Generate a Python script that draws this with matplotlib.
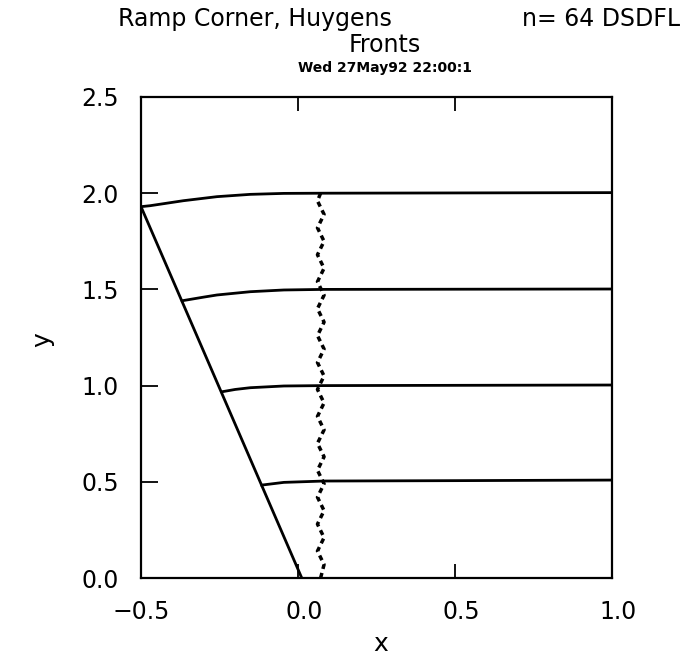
import matplotlib
matplotlib.use("Agg")
import matplotlib.pyplot as plt
from matplotlib.transforms import offset_copy

# ---- data ----
ramp_x = [0.012, -0.5]
ramp_y = [0.0, 1.93]

front_20_x = [-0.5, -0.471, -0.365, -0.258, -0.152, -0.045, 0.081, 1.0]
front_20_y = [1.93, 1.935, 1.961, 1.982, 1.994, 1.999, 2.0, 2.003]

front_15_x = [-0.369, -0.30, -0.258, -0.152, -0.045, 0.081, 1.0]
front_15_y = [1.441, 1.460, 1.471, 1.488, 1.497, 1.500, 1.502]

front_10_x = [-0.242, -0.20, -0.152, -0.045, 0.08, 1.0]
front_10_y = [0.968, 0.980, 0.989, 0.998, 1.0, 1.003]

front_05_x = [-0.115, -0.045, 0.083, 0.5, 1.0]
front_05_y = [0.483, 0.497, 0.504, 0.506, 0.509]

wig_y = [0.00, 0.07, 0.14, 0.21, 0.28, 0.35, 0.42, 0.49, 0.56, 0.63,
         0.70, 0.77, 0.84, 0.91, 0.98, 1.05, 1.12, 1.19, 1.26, 1.33,
         1.40, 1.47, 1.54, 1.61, 1.68, 1.75, 1.82, 1.89, 1.96, 2.00]
wig_x = [0.072, 0.083, 0.062, 0.083, 0.062, 0.083, 0.062, 0.083, 0.062, 0.083,
         0.062, 0.083, 0.062, 0.083, 0.062, 0.083, 0.062, 0.083, 0.062, 0.083,
         0.062, 0.083, 0.062, 0.083, 0.062, 0.083, 0.062, 0.083, 0.062, 0.072]

x_ticks = [-0.5, 0.0, 0.5, 1.0]
x_tick_labels = ["\u22120.5", "0.0", "0.5", "1.0"]
y_ticks = [0.0, 0.5, 1.0, 1.5, 2.0, 2.5]
y_tick_labels = ["0.0", "0.5", "1.0", "1.5", "2.0", "2.5"]

title_left = "Ramp Corner, Huygens"
title_right = "n= 64 DSDFL"
subtitle = "Fronts"
stamp = "Wed 27May92 22:00:1"

# ---- figure ----
fig = plt.figure(figsize=(6.83, 6.64), dpi=100)
ax = fig.add_axes([141 / 683, 1 - 578 / 664, 471 / 683, 481 / 664])

lw = 2.0
ax.plot(ramp_x, ramp_y, color="black", lw=lw, solid_capstyle="butt")
for fx, fy in [(front_20_x, front_20_y), (front_15_x, front_15_y),
               (front_10_x, front_10_y), (front_05_x, front_05_y)]:
    ax.plot(fx, fy, color="black", lw=lw)
ax.plot(wig_x, wig_y, color="black", lw=2.5, linestyle=(0, (1.5, 1.2)))

ax.set_xlim(-0.5, 1.0)
ax.set_ylim(0.0, 2.5)
ax.set_xticks(x_ticks)
ax.set_xticklabels(x_tick_labels)
ax.set_yticks(y_ticks)
ax.set_yticklabels(y_tick_labels)
ax.tick_params(axis="x", direction="in", length=10, width=1.3, top=True,
               labelsize=17, pad=16)
ax.tick_params(axis="y", direction="in", length=12, width=1.3, right=False,
               labelsize=17, pad=16)
for s in ax.spines.values():
    s.set_linewidth(1.6)

# shift non-negative x tick labels slightly right as in the reference
for lab in ax.get_xticklabels()[1:]:
    lab.set_transform(offset_copy(lab.get_transform(), fig=fig, x=6, y=0, units="dots"))

ax.set_xlabel("x", fontsize=18)
ax.set_ylabel("y", fontsize=18)
ax.xaxis.set_label_coords((381 - 141) / 471, (578 - 632) / 481)
ax.yaxis.set_label_coords((54 - 141) / 471, (578 - 340) / 481)

fig.text(118 / 683, 1 - 19 / 664, title_left, fontsize=17, ha="left", va="center")
fig.text(680 / 683, 1 - 19 / 664, title_right, fontsize=17, ha="right", va="center")
fig.text(385 / 683, 1 - 45 / 664, subtitle, fontsize=17, ha="center", va="center")
fig.text(385 / 683, 1 - 68 / 664, stamp, fontsize=10, fontweight="bold",
         ha="center", va="center")

fig.savefig("out.png", dpi=100)
